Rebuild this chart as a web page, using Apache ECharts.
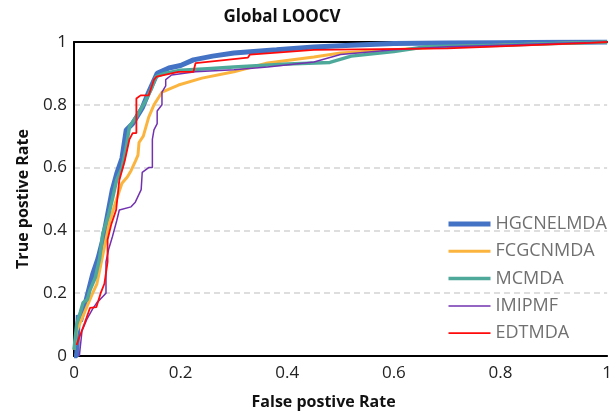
<!DOCTYPE html>
<html>
<head>
<meta charset="utf-8">
<script src="https://cdn.jsdelivr.net/npm/echarts@6/dist/echarts.min.js"></script>
<style>html,body{margin:0;padding:0;background:#fff;}#c{width:615px;height:419px;}</style>
</head>
<body>
<div id="c"></div>
<script>
var seriesNames = ['HGCNELMDA', 'FCGCNMDA', 'MCMDA', 'IMIPMF', 'EDTMDA'];
var tickLabels = ['0', '0.2', '0.4', '0.6', '0.8', '1'];

var hgcnelmdaFpr = [0, 0.005, 0.008, 0.012, 0.02, 0.035, 0.045, 0.054, 0.063, 0.072, 0.08, 0.09, 0.098, 0.11, 0.128, 0.14, 0.156, 0.178, 0.2, 0.224, 0.26, 0.3, 0.38, 0.45, 0.52, 0.6, 0.7, 0.8, 0.9, 1];
var hgcnelmdaTpr = [0, 0, 0.13, 0.11, 0.16, 0.26, 0.31, 0.37, 0.45, 0.53, 0.58, 0.63, 0.72, 0.74, 0.79, 0.84, 0.90, 0.917, 0.925, 0.943, 0.955, 0.965, 0.975, 0.984, 0.99, 0.995, 0.997, 0.998, 0.999, 1];

var fcgcnmdaFpr = [0, 0.005, 0.015, 0.025, 0.035, 0.043, 0.055, 0.067, 0.08, 0.09, 0.1, 0.107, 0.115, 0.12, 0.122, 0.13, 0.14, 0.15, 0.165, 0.196, 0.24, 0.3, 0.363, 0.45, 0.5, 0.6, 0.7, 0.8, 0.9, 1];
var fcgcnmdaTpr = [0.02, 0.08, 0.12, 0.16, 0.2, 0.23, 0.33, 0.43, 0.5, 0.55, 0.57, 0.59, 0.62, 0.64, 0.68, 0.7, 0.76, 0.8, 0.84, 0.863, 0.885, 0.905, 0.933, 0.952, 0.965, 0.975, 0.985, 0.99, 0.995, 1];

var mcmdaFpr = [0, 0.005, 0.012, 0.017, 0.025, 0.03, 0.04, 0.048, 0.054, 0.065, 0.072, 0.08, 0.09, 0.098, 0.104, 0.12, 0.135, 0.145, 0.154, 0.17, 0.2, 0.25, 0.3, 0.4, 0.48, 0.52, 0.6, 0.66, 0.8, 0.9, 1];
var mcmdaTpr = [0.02, 0.1, 0.14, 0.17, 0.18, 0.21, 0.25, 0.31, 0.39, 0.45, 0.5, 0.56, 0.6, 0.665, 0.73, 0.77, 0.815, 0.85, 0.89, 0.9, 0.91, 0.915, 0.92, 0.93, 0.935, 0.955, 0.97, 0.985, 0.99, 0.995, 1];

var imipmfFpr = [0.01, 0.015, 0.025, 0.035, 0.043, 0.06, 0.06, 0.065, 0.072, 0.08, 0.085, 0.107, 0.115, 0.126, 0.128, 0.14, 0.147, 0.147, 0.15, 0.156, 0.156, 0.165, 0.165, 0.172, 0.172, 0.183, 0.228, 0.3, 0.363, 0.45, 0.5, 0.6, 0.7, 0.8, 0.9, 1];
var imipmfTpr = [0, 0.08, 0.12, 0.15, 0.17, 0.2, 0.3, 0.34, 0.38, 0.43, 0.465, 0.475, 0.49, 0.53, 0.585, 0.6, 0.6, 0.69, 0.72, 0.74, 0.78, 0.8, 0.84, 0.86, 0.88, 0.895, 0.905, 0.912, 0.92, 0.936, 0.96, 0.975, 0.985, 0.99, 0.995, 1];

var edtmdaFpr = [0.005, 0.008, 0.02, 0.03, 0.042, 0.05, 0.057, 0.063, 0.063, 0.07, 0.079, 0.085, 0.095, 0.104, 0.11, 0.117, 0.117, 0.125, 0.14, 0.15, 0.155, 0.196, 0.224, 0.228, 0.326, 0.33, 0.45, 0.7, 0.97, 1];
var edtmdaTpr = [0.035, 0.05, 0.105, 0.153, 0.156, 0.2, 0.23, 0.3, 0.37, 0.42, 0.465, 0.56, 0.62, 0.69, 0.71, 0.71, 0.82, 0.83, 0.83, 0.88, 0.89, 0.905, 0.905, 0.933, 0.95, 0.96, 0.975, 0.98, 0.997, 1];

var colors = ['#4472c4', '#fbb53f', '#4fa99a', '#7232b0', '#ff0a0a'];
var widths = [5, 3, 3.5, 1.5, 1.8];

function zip(xs, ys) { return xs.map(function (x, i) { return [x, ys[i]]; }); }
var allData = [
  zip(hgcnelmdaFpr, hgcnelmdaTpr),
  zip(fcgcnmdaFpr, fcgcnmdaTpr),
  zip(mcmdaFpr, mcmdaTpr),
  zip(imipmfFpr, imipmfTpr),
  zip(edtmdaFpr, edtmdaTpr)
];

var FONT = 'Open Sans';
var chart = echarts.init(document.getElementById('c'), null, {renderer: 'canvas'});
chart.setOption({
  animation: false,
  backgroundColor: '#fff',
  title: {
    text: 'Global LOOCV',
    left: 277, top: 4, textAlign: 'center',
    textStyle: {fontFamily: FONT, fontWeight: 'bold', fontSize: 17, color: '#111'}
  },
  grid: {left: 74, right: 1, top: 42, bottom: 63},
  legend: {
    data: seriesNames,
    orient: 'vertical',
    left: 441, top: 209,
    itemWidth: 42, itemHeight: 10, itemGap: 7.3,
    lineStyle: {width: 'inherit'},
    itemStyle: {color: 'transparent', borderWidth: 0, opacity: 0},
    textStyle: {fontFamily: FONT, fontSize: 18, lineHeight: 20, color: '#707070'}
  },
  xAxis: [{
    type: 'value', min: 0, max: 1, interval: 0.2,
    name: 'False postive Rate', nameLocation: 'middle', nameGap: 38,
    nameTextStyle: {fontFamily: FONT, fontWeight: 'bold', fontSize: 16, color: '#111', padding: [0, 34, 0, 0]},
    axisLine: {show: true, lineStyle: {color: '#000', width: 2}},
    axisTick: {show: false},
    splitLine: {show: false},
    axisLabel: {fontFamily: FONT, fontSize: 17, color: '#222', margin: 9,
      formatter: function (v) { return tickLabels[Math.round(v * 5)]; }}
  }, {
    type: 'value', min: 0, max: 1, position: 'top',
    axisLine: {show: true, lineStyle: {color: '#000', width: 2}},
    axisTick: {show: false}, axisLabel: {show: false}, splitLine: {show: false}
  }],
  yAxis: {
    type: 'value', min: 0, max: 1, interval: 0.2,
    name: 'True postive Rate', nameLocation: 'middle', nameGap: 43,
    nameTextStyle: {fontFamily: FONT, fontWeight: 'bold', fontSize: 16, color: '#111'},
    axisLine: {show: true, lineStyle: {color: '#000', width: 2}},
    axisTick: {show: false},
    splitLine: {show: true, lineStyle: {color: '#d4d4d4', type: [6, 4], width: 1.5}},
    axisLabel: {fontFamily: FONT, fontSize: 17, color: '#222', margin: 7,
      formatter: function (v) { return tickLabels[Math.round(v * 5)]; }}
  },
  series: seriesNames.map(function (name, i) {
    return {
      name: name, type: 'line', data: allData[i],
      showSymbol: false, symbol: 'none',
      lineStyle: {color: colors[i], width: widths[i]},
      itemStyle: {color: colors[i]},
      z: 2 + i
    };
  })
});
</script>
</body>
</html>
